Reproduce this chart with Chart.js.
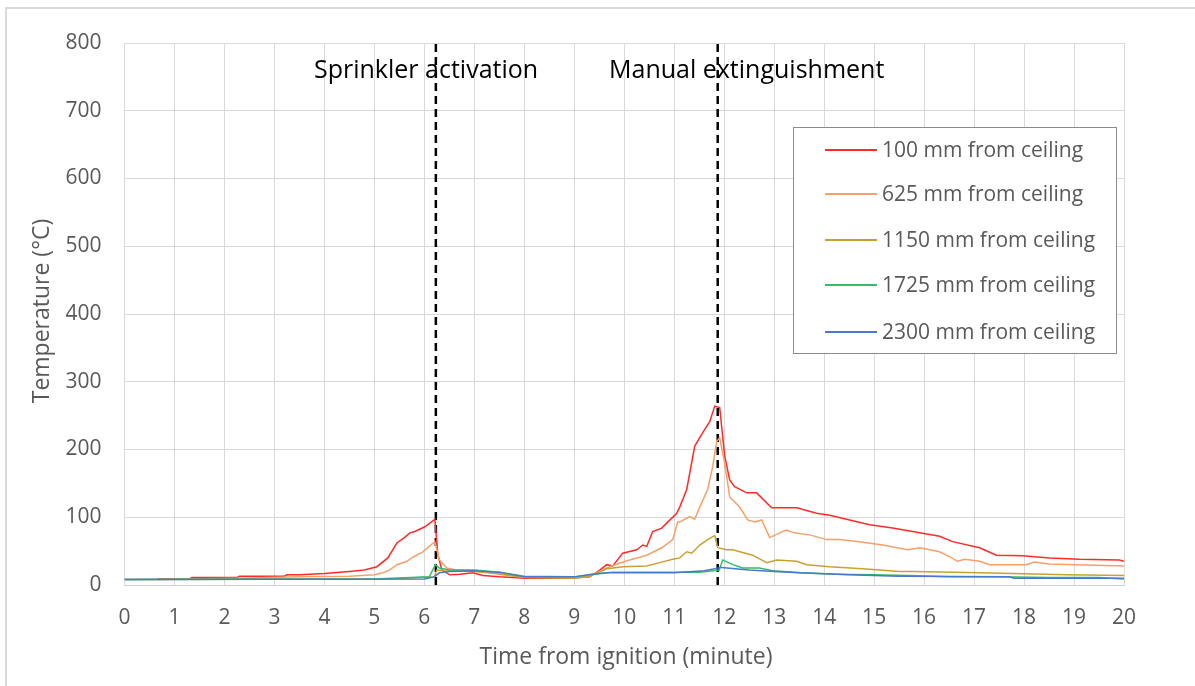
<!DOCTYPE html>
<html>
<head>
<meta charset="utf-8">
<script src="https://cdn.jsdelivr.net/npm/chart.js@4.4.1/dist/chart.umd.min.js"></script>
<style>
  html, body { margin: 0; padding: 0; background: #fff; }
  #wrap { width: 1195px; height: 686px; position: relative; }
</style>
</head>
<body>
<div id="wrap"><canvas id="tempChart" width="1195" height="686"></canvas></div>
<script>
// Temperature readings (deg C) against time from ignition (minutes)
const time100 = [0.65, 1.3, 1.35, 2.25, 2.3, 3.2, 3.25, 3.5, 4.0, 4.5, 4.8, 5.05, 5.27, 5.45, 5.6, 5.71, 5.81, 6.01, 6.21, 6.27, 6.35, 6.51, 6.71, 6.97, 7.17, 7.5, 7.77, 8.0, 8.9, 9.31, 9.51, 9.65, 9.77, 9.97, 10.25, 10.37, 10.45, 10.57, 10.75, 10.9, 11.05, 11.11, 11.25, 11.41, 11.57, 11.71, 11.81, 11.91, 12.01, 12.11, 12.21, 12.45, 12.65, 12.95, 13.45, 13.85, 14.11, 14.51, 14.91, 15.37, 15.91, 16.31, 16.57, 17.11, 17.45, 17.97, 18.51, 19.11, 19.91, 20];
const temp100 = [9, 9, 11, 11, 13, 13, 15, 15, 17, 20, 22, 27, 40, 62, 70, 77, 79, 86, 97, 45, 22, 15, 16, 18, 14, 12, 11, 10, 10, 12, 22, 30, 28, 47, 52, 59, 57, 79, 84, 95, 106, 115, 141, 205, 225, 241, 264, 262, 190, 155, 145, 136, 136, 114, 114, 106, 103, 96, 89, 84, 77, 72, 64, 55, 44, 43, 40, 38, 37, 35];

const time625 = [0.65, 2.3, 3.5, 4.5, 5.0, 5.17, 5.3, 5.45, 5.65, 5.77, 5.97, 6.21, 6.3, 6.45, 6.65, 7.0, 7.5, 7.77, 8.0, 9.0, 9.3, 9.65, 9.9, 10.11, 10.45, 10.75, 10.97, 11.07, 11.11, 11.31, 11.41, 11.51, 11.67, 11.77, 11.85, 11.91, 12.01, 12.11, 12.31, 12.47, 12.61, 12.75, 12.91, 13.11, 13.25, 13.4, 13.71, 14.05, 14.31, 14.71, 15.17, 15.67, 15.91, 16.31, 16.51, 16.67, 16.81, 17.11, 17.31, 17.57, 18.05, 18.2, 18.5, 20];
const temp625 = [8, 10, 12, 13, 15, 18, 22, 30, 35, 41, 49, 64, 37, 25, 22, 21, 16, 13, 12, 11, 13, 25, 32, 37, 44, 55, 67, 93, 93, 101, 97, 115, 141, 175, 212, 217, 180, 130, 115, 96, 93, 96, 70, 77, 81, 77, 74, 67, 67, 64, 59, 52, 55, 49, 42, 35, 38, 35, 30, 30, 30, 34, 31, 28];

const time1150 = [0, 4.25, 5.2, 5.6, 6.2, 6.25, 6.4, 7.0, 7.5, 8.0, 9.0, 9.3, 9.65, 9.97, 10.45, 10.71, 10.97, 11.11, 11.25, 11.35, 11.51, 11.67, 11.81, 11.87, 12.05, 12.17, 12.57, 12.85, 13.05, 13.45, 13.65, 14.11, 14.77, 15.51, 15.8, 17.11, 18.85, 20];
const temp1150 = [8, 9, 9, 10, 12, 22, 21, 20, 17, 11, 10, 13, 24, 27, 28, 33, 38, 40, 49, 47, 59, 67, 73, 55, 52, 52, 44, 33, 37, 35, 30, 27, 24, 20, 20, 18, 15, 14];

const time1725 = [0, 5.0, 6.1, 6.22, 6.3, 6.5, 7.0, 7.5, 8.0, 9.0, 9.5, 9.77, 11.5, 11.9, 11.97, 12.17, 12.37, 12.7, 12.97, 13.55, 14.25, 15.0, 15.7, 16.5, 17.5, 18.5, 19.5, 20];
const temp1725 = [8, 9, 12, 30, 25, 22, 22, 19, 13, 12, 17, 19, 19, 22, 37, 30, 25, 25, 21, 18, 16, 15, 14, 12, 12, 11, 11, 9];

const time2300 = [0, 6.0, 6.2, 6.3, 6.5, 7.0, 7.5, 8.0, 9.0, 9.35, 9.7, 11.0, 11.6, 11.95, 12.5, 13.0, 13.5, 14.5, 15.5, 17.7, 17.8, 20];
const temp2300 = [8, 9, 12, 18, 20, 21, 19, 12, 12, 16, 18, 18, 21, 26, 22, 20, 18, 15, 13, 12, 10, 10];

const seriesLabels = ['100 mm from ceiling', '625 mm from ceiling', '1150 mm from ceiling', '1725 mm from ceiling', '2300 mm from ceiling'];
const seriesColors = ['#ff2a2a', '#f7a06a', '#c9a132', '#2fbf6a', '#4a78cc'];

// event markers
const eventTimes = [6.23, 11.87];
const eventLabels = ['Sprinkler activation', 'Manual extinguishment'];

const xTitle = 'Time from ignition (minute)';
const yTitle = 'Temperature (°C)';

function toPoints(xs, ys) {
  return xs.map((x, i) => ({ x: x, y: ys[i] }));
}

const seriesData = [
  toPoints(time100, temp100),
  toPoints(time625, temp625),
  toPoints(time1150, temp1150),
  toPoints(time1725, temp1725),
  toPoints(time2300, temp2300)
];

const datasets = seriesData.map((pts, i) => ({
  label: seriesLabels[i],
  data: pts,
  borderColor: seriesColors[i],
  borderWidth: 1.5,
  pointRadius: 0,
  tension: 0,
  fill: false
})).reverse();

// dashed event lines drawn as two-point datasets
eventTimes.forEach(t => {
  datasets.push({
    label: '',
    data: [{ x: t, y: 0 }, { x: t, y: 800 }],
    borderColor: '#000',
    borderWidth: 2.5,
    borderDash: [8, 5],
    pointRadius: 0,
    fill: false
  });
});

const FONT = "'Open Sans', 'Noto Sans', sans-serif";

// frame, axis titles, legend box and event labels
const overlayPlugin = {
  id: 'overlay',
  beforeDraw(chart) {
    const ctx = chart.ctx;
    ctx.save();
    ctx.fillStyle = '#fff';
    ctx.fillRect(0, 0, chart.width, chart.height);
    ctx.strokeStyle = '#d9d9d9';
    ctx.lineWidth = 2;
    ctx.strokeRect(6, 8, 1300, 800);
    ctx.restore();
  },
  afterDatasetsDraw(chart) {
    const ctx = chart.ctx;
    ctx.save();

    // axis titles
    ctx.fillStyle = '#595959';
    ctx.font = '23px ' + FONT;
    ctx.textAlign = 'center';
    ctx.textBaseline = 'middle';
    ctx.fillText(xTitle, 626, 657);
    ctx.save();
    ctx.translate(42, 311);
    ctx.rotate(-Math.PI / 2);
    ctx.fillText(yTitle, 0, 0);
    ctx.restore();

    // event labels
    ctx.font = '25px ' + FONT;
    ctx.fillStyle = '#000';
    ctx.textAlign = 'left';
    ctx.fillText(eventLabels[0], 314, 71);
    ctx.fillText(eventLabels[1], 609, 71);

    // legend
    const bx = 793.5, by = 127.5, bw = 323, bh = 226;
    ctx.fillStyle = '#fff';
    ctx.fillRect(bx, by, bw, bh);
    ctx.strokeStyle = '#8c8c8c';
    ctx.lineWidth = 1;
    ctx.strokeRect(bx, by, bw, bh);
    const rows = [150, 194, 240, 285, 332];
    ctx.font = '21px ' + FONT;
    seriesLabels.forEach((lab, i) => {
      ctx.strokeStyle = seriesColors[i];
      ctx.lineWidth = 1.8;
      ctx.beginPath();
      ctx.moveTo(825, rows[i]);
      ctx.lineTo(877, rows[i]);
      ctx.stroke();
      ctx.fillStyle = '#595959';
      ctx.fillText(lab, 882, rows[i] + 1);
    });
    ctx.restore();
  }
};

const chart = new Chart(document.getElementById('tempChart'), {
  type: 'line',
  data: { datasets: datasets },
  options: {
    responsive: false,
    animation: false,
    events: [],
    layout: { padding: { top: 43, right: 71, left: 0, bottom: 0 } },
    plugins: {
      legend: { display: false },
      tooltip: { enabled: false }
    },
    scales: {
      x: {
        type: 'linear',
        min: 0,
        max: 20,
        afterFit: scale => { scale.height = 101; },
        grid: { color: '#d9d9d9', drawTicks: false },
        border: { color: '#d0d0d0' },
        ticks: {
          stepSize: 1,
          padding: 20,
          color: '#595959',
          font: { family: FONT, size: 21 }
        }
      },
      y: {
        min: 0,
        max: 800,
        afterFit: scale => { scale.width = 124.5; },
        grid: { color: '#d9d9d9', drawTicks: false },
        border: { color: '#d9d9d9' },
        ticks: {
          stepSize: 100,
          padding: 23,
          color: '#595959',
          font: { family: FONT, size: 21 }
        }
      }
    }
  },
  plugins: [overlayPlugin]
});
</script>
</body>
</html>
